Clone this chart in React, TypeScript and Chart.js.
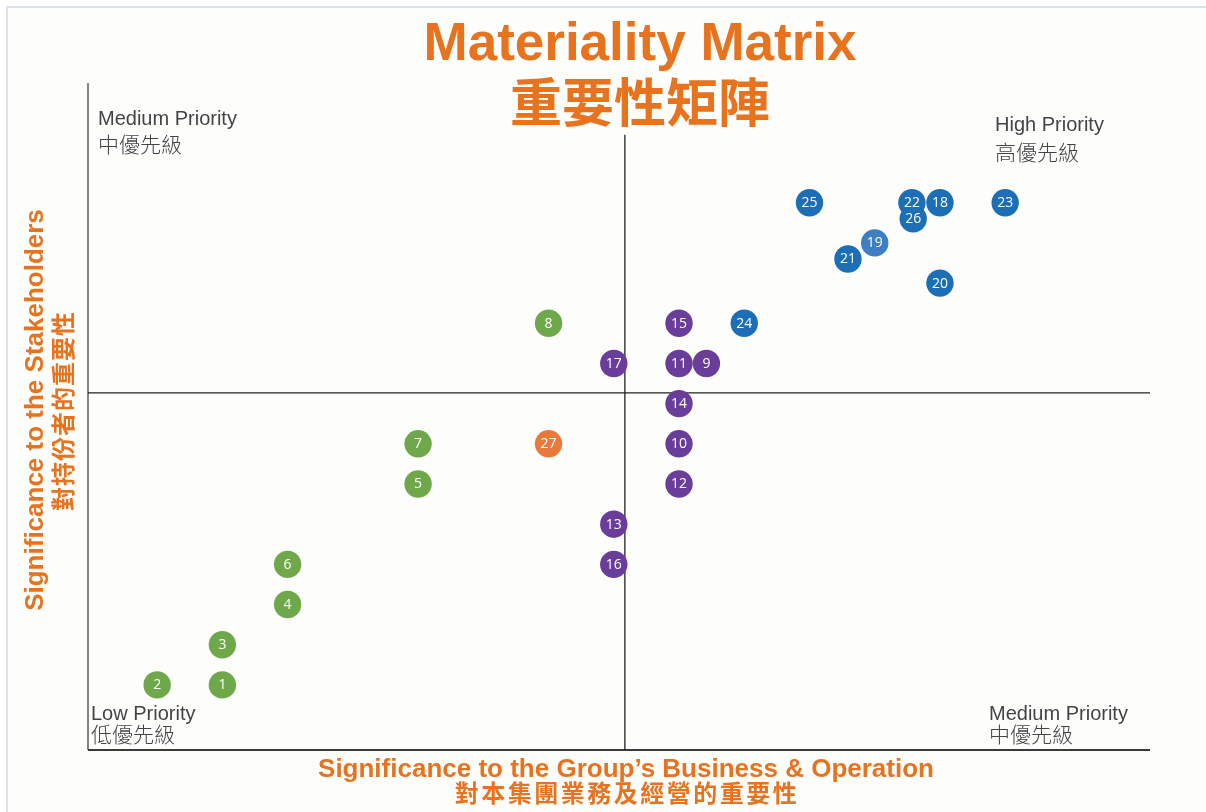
import React, { useEffect, useRef } from "react";
import { Chart, registerables } from "chart.js";

Chart.register(...registerables);

// ---- Data (drawing order) ----
const pointIds = [1, 2, 3, 4, 5, 6, 7, 8, 10, 11, 12, 13, 14, 15, 16, 17, 9, 22, 18, 19, 20, 21, 23, 24, 25, 26, 27];
const businessScores = [2, 1, 2, 3, 5, 3, 5, 7, 9, 9, 9, 8, 9, 9, 8, 8, 9.42, 12.57, 13, 12, 13, 11.59, 14, 10, 11, 12.59, 7];
const stakeholderScores = [1, 1, 2, 3, 6, 4, 7, 10, 7, 9, 6, 5, 8, 10, 4, 9, 9, 13, 13, 12, 11, 11.6, 13, 10, 13, 12.6, 7];
const pointGroups = ["low", "low", "low", "low", "low", "low", "low", "low", "mid", "mid", "mid", "mid", "mid", "mid", "mid", "mid", "mid", "high", "high", "highLight", "high", "high", "high", "high", "high", "high", "other"];

const groupColors: Record<string, string> = {
  low: "#6FA84B",
  mid: "#693D99",
  high: "#1C6EB6",
  highLight: "#3E7EC3",
  other: "#E8793A",
};

const xRange = [-0.06, 16.22];
const yRange = [-0.62, 15.98];
const xSplit = 8.17;
const ySplit = 8.27;
const vLineTop = 14.69;

const titleLines = ["Materiality Matrix", "重要性矩陣"];
const xTitleLines = ["Significance to the Group’s Business & Operation", "對本集團業務及經營的重要性"];
const yTitleLines = ["Significance to the Stakeholders", "對持份者的重要性"];
const quadrantLabels = [
  ["Medium Priority", "中優先級"],
  ["High Priority", "高優先級"],
  ["Low Priority", "低優先級"],
  ["Medium Priority", "中優先級"],
];

const ORANGE = "#E8731F";
const CJK = '"Noto Sans CJK TC", "Noto Sans CJK SC", sans-serif';
const LATIN = '"Liberation Sans", Arial, sans-serif';

const matrixPlugin = {
  id: "matrixPlugin",
  beforeDraw(chart: any) {
    const ctx = chart.ctx;
    ctx.save();
    ctx.fillStyle = "#FDFDFC";
    ctx.fillRect(0, 0, chart.width, chart.height);
    ctx.restore();
  },
  beforeDatasetsDraw(chart: any) {
    const ctx = chart.ctx;
    const ca = chart.chartArea;
    const xs = chart.scales.x;
    const ys = chart.scales.y;
    ctx.save();
    ctx.strokeStyle = "#333";
    ctx.lineWidth = 1.2;
    ctx.beginPath();
    ctx.moveTo(ca.left, ca.top);
    ctx.lineTo(ca.left, ca.bottom);
    ctx.stroke();
    ctx.strokeStyle = "#3a3a3a";
    ctx.lineWidth = 2;
    ctx.beginPath();
    ctx.moveTo(ca.left, ca.bottom);
    ctx.lineTo(ca.right, ca.bottom);
    ctx.stroke();
    ctx.strokeStyle = "#222";
    ctx.lineWidth = 1.3;
    const vx = xs.getPixelForValue(xSplit);
    ctx.beginPath();
    ctx.moveTo(vx, ys.getPixelForValue(vLineTop));
    ctx.lineTo(vx, ca.bottom);
    ctx.stroke();
    const hy = ys.getPixelForValue(ySplit);
    ctx.beginPath();
    ctx.moveTo(ca.left, hy);
    ctx.lineTo(ca.right, hy);
    ctx.stroke();
    ctx.restore();
  },
  afterDatasetsDraw(chart: any) {
    const ctx = chart.ctx;
    const ca = chart.chartArea;
    const meta = chart.getDatasetMeta(0);
    ctx.save();
    ctx.fillStyle = "#FFFFFF";
    ctx.font = '14px "Open Sans", sans-serif';
    ctx.textAlign = "center";
    ctx.textBaseline = "middle";
    meta.data.forEach((el: any, i: number) => {
      ctx.fillText(String(pointIds[i]), el.x, el.y + 0.5);
    });

    // title
    ctx.fillStyle = ORANGE;
    ctx.textAlign = "center";
    ctx.textBaseline = "alphabetic";
    ctx.font = `bold 53px ${LATIN}`;
    ctx.fillText(titleLines[0], 632, 52, 440);
    ctx.textBaseline = "middle";
    ctx.font = `bold 52px ${CJK}`;
    ctx.fillText(titleLines[1], 632, 94);

    // x title
    ctx.textBaseline = "alphabetic";
    ctx.font = `bold 26px ${LATIN}`;
    ctx.fillText(xTitleLines[0], 618, 769, 627);
    ctx.textBaseline = "middle";
    ctx.font = `bold 24px ${CJK}`;
    (ctx as any).letterSpacing = "2.5px";
    ctx.fillText(xTitleLines[1], 619, 785);
    (ctx as any).letterSpacing = "0px";

    // y title
    ctx.save();
    ctx.translate(35, 402);
    ctx.rotate(-Math.PI / 2);
    ctx.textBaseline = "alphabetic";
    ctx.font = `bold 26px ${LATIN}`;
    ctx.fillText(yTitleLines[0], 0, 0, 410);
    ctx.restore();
    ctx.save();
    ctx.translate(55, 403);
    ctx.rotate(-Math.PI / 2);
    ctx.textBaseline = "middle";
    ctx.font = `bold 24px ${CJK}`;
    (ctx as any).letterSpacing = "1px";
    ctx.fillText(yTitleLines[1], 0, 0);
    (ctx as any).letterSpacing = "0px";
    ctx.restore();

    // quadrant labels
    ctx.fillStyle = "#444444";
    ctx.textAlign = "left";
    const pos = [
      [ca.left + 10, 117, 136],
      [ca.left + 907, 123, 144],
      [ca.left + 3, 712, 726],
      [ca.left + 901, 712, 726],
    ];
    quadrantLabels.forEach((lbl, i) => {
      const [x, yb, ym] = pos[i];
      ctx.textBaseline = "alphabetic";
      ctx.font = `20px ${LATIN}`;
      ctx.fillText(lbl[0], x, yb);
      ctx.textBaseline = "middle";
      ctx.font = `300 21px ${CJK}`;
      ctx.fillText(lbl[1], x, ym);
    });
    ctx.restore();
  },
};

export default function App() {
  const canvasRef = useRef<HTMLCanvasElement | null>(null);

  useEffect(() => {
    if (!canvasRef.current) return;
    const data = pointIds.map((_, i) => ({ x: businessScores[i], y: stakeholderScores[i] }));
    const chart = new Chart(canvasRef.current, {
      type: "scatter",
      data: {
        datasets: [
          {
            data,
            backgroundColor: pointGroups.map((g) => groupColors[g]),
            borderWidth: 0,
            pointRadius: 13.7,
            pointHoverRadius: 13.7,
          },
        ],
      },
      options: {
        animation: false,
        responsive: true,
        maintainAspectRatio: false,
        events: [],
        layout: { padding: { left: 80, top: 75, right: 56, bottom: 62 } },
        plugins: {
          legend: { display: false },
          title: { display: false },
          tooltip: { enabled: false },
        },
        scales: {
          x: { type: "linear", min: xRange[0], max: xRange[1], display: false },
          y: { type: "linear", min: yRange[0], max: yRange[1], display: false },
        },
      },
      plugins: [matrixPlugin],
    });
    return () => chart.destroy();
  }, []);

  return (
    <div
      style={{
        position: "fixed",
        left: 6,
        top: 6,
        width: 1198,
        height: 804,
        borderTop: "2px solid #DDE2EA",
        borderLeft: "2px solid #DDE2EA",
        background: "#FDFDFC",
      }}
    >
      <canvas ref={canvasRef} style={{ display: "block", width: "1198px", height: "804px" }} />
    </div>
  );
}
